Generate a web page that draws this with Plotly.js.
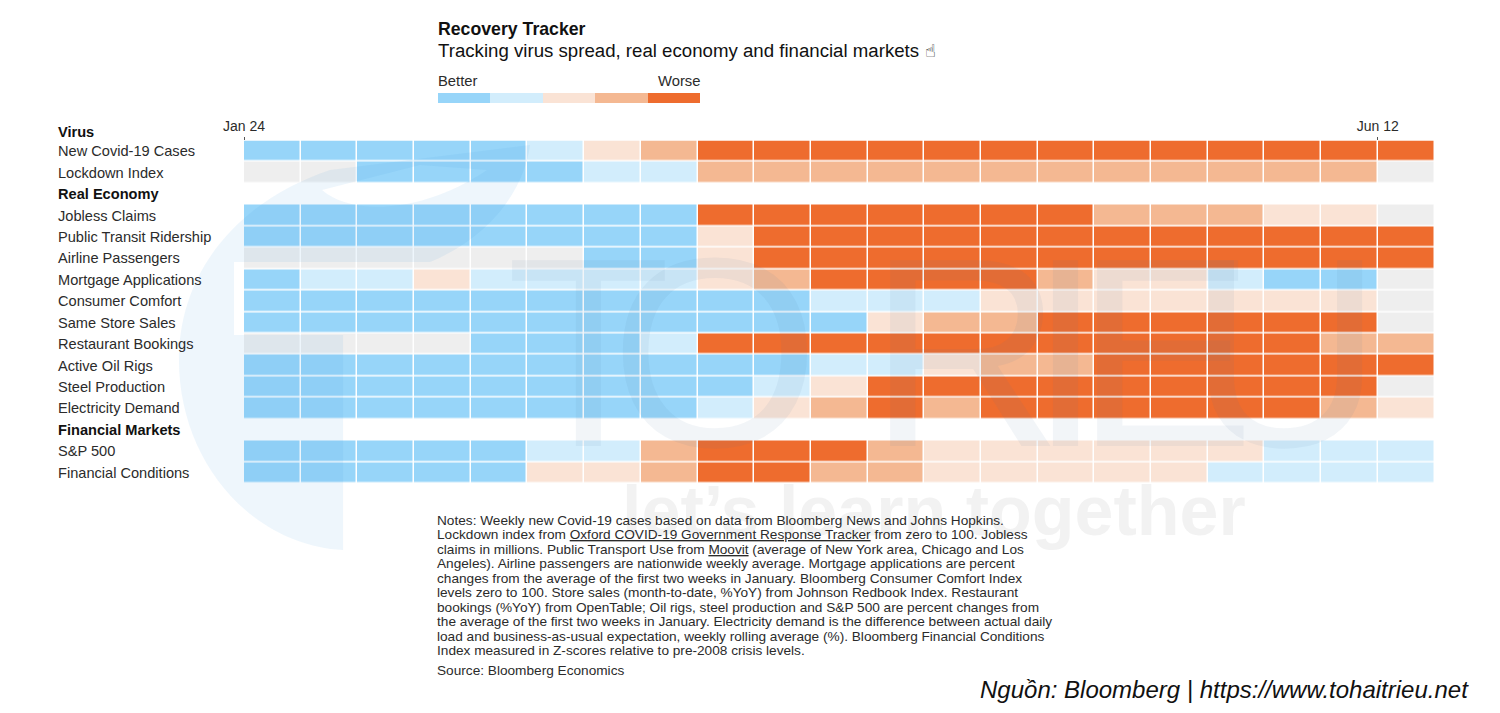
<!DOCTYPE html>
<html>
<head>
<meta charset="utf-8">
<script src="https://cdn.plot.ly/plotly-3.0.1.min.js"></script>
<style>html,body{margin:0;padding:0;background:#fff;overflow:hidden}#chart{width:1500px;height:713px}</style>
</head>
<body>
<div id="chart"></div>
<script>
// Week boundaries (each cell runs from one date to the next)
const weekEdges = ['2020-01-24','2020-01-31','2020-02-07','2020-02-14','2020-02-21','2020-02-28','2020-03-06','2020-03-13','2020-03-20','2020-03-27','2020-04-03','2020-04-10','2020-04-17','2020-04-24','2020-05-01','2020-05-08','2020-05-15','2020-05-22','2020-05-29','2020-06-05','2020-06-12','2020-06-19'];
const tickDates = ['2020-01-24','2020-06-12'];
const tickLabels = ['Jan 24','Jun 12'];

// Level: 0 no data, 1 better ... 5 worse
const newCovid    = [1,1,1,1,1,2,3,4,5,5,5,5,5,5,5,5,5,5,5,5,5];
const lockdown    = [0,0,1,1,1,1,2,2,4,4,4,4,4,4,4,4,4,4,4,4,0];
const realHeader  = [null,null,null,null,null,null,null,null,null,null,null,null,null,null,null,null,null,null,null,null,null];
const jobless     = [1,1,1,1,1,1,1,1,5,5,5,5,5,5,5,4,4,4,3,3,0];
const transit     = [1,1,1,1,1,1,1,1,3,5,5,5,5,5,5,5,5,5,5,5,5];
const airline     = [0,0,0,0,0,0,1,1,3,5,5,5,5,5,5,5,5,5,5,5,5];
const mortgage    = [1,2,2,3,2,2,2,2,3,4,5,5,5,5,4,3,3,2,1,1,0];
const consumer    = [1,1,1,1,1,1,1,1,1,1,2,2,2,3,3,3,3,3,3,3,0];
const sameStore   = [1,1,1,1,1,1,1,1,1,1,1,3,4,4,5,5,5,5,5,5,0];
const restaurant  = [0,0,0,0,1,1,1,2,5,5,5,5,5,5,5,5,5,5,5,4,4];
const oilRigs     = [1,1,1,1,1,1,1,1,1,1,2,2,3,4,4,5,5,5,5,5,5];
const steel       = [1,1,1,1,1,1,1,1,1,2,3,5,5,5,5,5,5,5,5,5,0];
const electricity = [1,1,1,1,1,1,1,1,2,3,4,5,4,5,5,5,5,5,5,4,3];
const finHeader   = [null,null,null,null,null,null,null,null,null,null,null,null,null,null,null,null,null,null,null,null,null];
const sp500       = [1,1,1,1,1,2,2,4,5,5,5,4,3,3,3,3,3,3,2,2,2];
const finCond     = [1,1,1,1,1,3,3,4,5,5,4,4,3,3,3,3,3,2,2,2,2];

const rowLabels = ['New Covid-19 Cases','Lockdown Index','Real Economy','Jobless Claims','Public Transit Ridership','Airline Passengers','Mortgage Applications','Consumer Comfort','Same Store Sales','Restaurant Bookings','Active Oil Rigs','Steel Production','Electricity Demand','Financial Markets','S&P 500','Financial Conditions'];
const boldRows = ['Real Economy','Financial Markets'];
const topHeader = 'Virus';

const legendLevels = [1,2,3,4,5];
const legendKeys = ['1','2','3','4','5'];

const titleText = 'Recovery Tracker';
const subtitleText = 'Tracking virus spread, real economy and financial markets';
const creditText = 'Nguồn: Bloomberg | https://www.tohaitrieu.net';
const sourceText = 'Source: Bloomberg Economics';
const noteLines = [
 'Notes: Weekly new Covid-19 cases based on data from Bloomberg News and Johns Hopkins.',
 'Lockdown index from <u>Oxford COVID-19 Government Response Tracker</u> from zero to 100. Jobless',
 'claims in millions. Public Transport Use from <u>Moovit</u> (average of New York area, Chicago and Los',
 'Angeles). Airline passengers are nationwide weekly average. Mortgage applications are percent',
 'changes from the average of the first two weeks in January. Bloomberg Consumer Comfort Index',
 'levels zero to 100. Store sales (month-to-date, %YoY) from Johnson Redbook Index. Restaurant',
 'bookings (%YoY) from OpenTable; Oil rigs, steel production and S&P 500 are percent changes from',
 'the average of the first two weeks in January. Electricity demand is the difference between actual daily',
 'load and business-as-usual expectation, weekly rolling average (%). Bloomberg Financial Conditions',
 'Index measured in Z-scores relative to pre-2008 crisis levels.'
];

// Colours
const levelColors = ['#eeeeee','#97d5f9','#d2edfc','#fae3d5','#f4b892','#ee6c2e'];
const inkDark = '#111111';
const inkText = '#2b2b2b';

// Page geometry helpers (paper fractions from pixels)
const W = 1500, H = 713;
const px = x => x / W;
const py = y => 1 - y / H;
const font = 'Liberation Sans, Arial, sans-serif';

const levelScale = [];
levelColors.forEach((c, i) => {
  levelScale.push([i / levelColors.length, c]);
  levelScale.push([(i + 1) / levelColors.length, c]);
});

function note(text, x, y, size, color, extra) {
  return Object.assign({
    text, xref: 'paper', yref: 'paper', x: px(x), y: py(y),
    xanchor: 'left', yanchor: 'middle', showarrow: false, borderpad: 0, borderwidth: 0,
    font: {family: font, size, color}
  }, extra || {});
}

const annotations = [];

// Faint site watermark lying over the chart (drawn first, so the labels sit on top)
const wmColor = 'rgba(80,125,160,0.075)';
const wmLetters = ['T','O','R','I','E','U'];
const wmCentres = [588,715,965,1065,1165,1285];
wmLetters.forEach((letter, i) => {
  annotations.push(note(letter, wmCentres[i], 352, 270, wmColor, {xanchor: 'center'}));
});
annotations.push(note('<b>let\u2019s learn together</b>', 934, 511, 70, 'rgba(110,110,110,0.09)', {xanchor: 'center'}));

annotations.push(note('<b>' + titleText + '</b>', 437.5, 29, 17.7, inkDark));
annotations.push(note(subtitleText, 437.5, 50.5, 18.65, inkDark));
annotations.push(note('<b>\u261D</b>', 925, 50, 18, inkDark, {font: {family: 'DejaVu Sans', size: 18, color: inkDark}}));
annotations.push(note('Better', 438, 81, 14.8, inkText));
annotations.push(note('Worse', 700, 81, 14.8, inkText, {xanchor: 'right'}));

annotations.push(note('<b>' + topHeader + '</b>', 58, 132, 14.6, inkDark));
rowLabels.forEach((label, i) => {
  const bold = boldRows.indexOf(label) >= 0;
  annotations.push({
    text: bold ? '<b>' + label + '</b>' : label,
    xref: 'paper', yref: 'y', x: px(58), y: i,
    xanchor: 'left', yanchor: 'middle', showarrow: false, borderpad: 0, borderwidth: 0,
    font: {family: font, size: 14.6, color: bold ? inkDark : inkText}
  });
});

noteLines.forEach((line, i) => {
  annotations.push(note(line, 437, 520 + i * 14.55, 13.65, inkText));
});
annotations.push(note(sourceText, 437, 670, 13.65, inkText));
annotations.push(note('<i>' + creditText + '</i>', 980, 689.5, 24, '#111111'));

const pt = (x, y) => px(x).toFixed(4) + ',' + py(y).toFixed(4);
const logoPath =
  'M' + pt(343,550) + ' C' + pt(250,545) + ' ' + pt(179,460) + ' ' + pt(179,360) +
  ' C' + pt(179,270) + ' ' + pt(240,200) + ' ' + pt(330,170) +
  ' L' + pt(530,145) + ' C' + pt(525,185) + ' ' + pt(495,235) + ' ' + pt(430,262) +
  ' L' + pt(343,262) + ' Z ' +
  'M' + pt(234,262) + ' L' + pt(343,262) + ' L' + pt(343,335) + ' L' + pt(234,335) + ' Z ' +
  'M' + pt(322,190) + ' C' + pt(350,215) + ' ' + pt(420,215) + ' ' + pt(487,170) + ' L' + pt(420,165) + ' Z';

const data = [
  {
    type: 'heatmap',
    x: weekEdges,
    y: rowLabels,
    z: [newCovid, lockdown, realHeader, jobless, transit, airline, mortgage, consumer, sameStore, restaurant, oilRigs, steel, electricity, finHeader, sp500, finCond],
    zmin: 0, zmax: 6,
    colorscale: levelScale,
    showscale: false,
    xgap: 1.5, ygap: 1.5,
    hoverongaps: false,
    hoverinfo: 'y+z'
  },
  {
    type: 'heatmap',
    xaxis: 'x2', yaxis: 'y2',
    x: legendKeys,
    y: ['scale'],
    z: [legendLevels],
    zmin: 0, zmax: 6,
    colorscale: levelScale,
    showscale: false,
    hoverinfo: 'skip'
  }
];

const layout = {
  width: W, height: H,
  margin: {l: 0, r: 0, t: 0, b: 0},
  paper_bgcolor: '#fff', plot_bgcolor: 'rgba(0,0,0,0)',
  showlegend: false,
  font: {family: font},
  xaxis: {
    type: 'date', domain: [px(244), px(1434.5)], anchor: 'y', side: 'top',
    range: [weekEdges[0], weekEdges[weekEdges.length - 1]],
    tickmode: 'array', tickvals: tickDates, ticktext: tickLabels,
    ticks: 'outside', ticklen: 3, tickwidth: 1, tickcolor: '#555',
    tickfont: {family: font, size: 14, color: inkText},
    showgrid: false, zeroline: false, showline: false, fixedrange: true
  },
  yaxis: {
    type: 'category', domain: [py(483.5), py(140.5)], anchor: 'x',
    categoryorder: 'array', categoryarray: rowLabels,
    range: [15.5, -0.5], visible: false, fixedrange: true
  },
  xaxis2: {
    type: 'category', domain: [px(438), px(700)], anchor: 'y2',
    visible: false, fixedrange: true
  },
  yaxis2: {
    type: 'category', domain: [py(103), py(93)], anchor: 'x2',
    visible: false, fixedrange: true
  },
  shapes: [{
    type: 'path', xref: 'paper', yref: 'paper', path: logoPath,
    fillrule: 'evenodd', fillcolor: 'rgba(60,150,225,0.085)', line: {width: 0}, layer: 'above'
  }],
  annotations
};

Plotly.newPlot('chart', data, layout, {displayModeBar: false, responsive: false});
</script>
</body>
</html>
